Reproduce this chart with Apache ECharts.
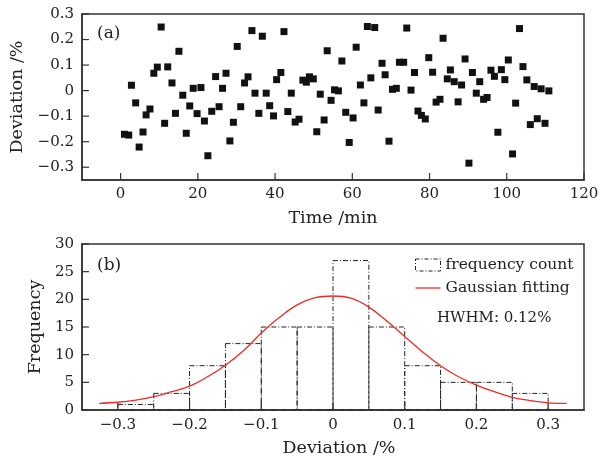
<!DOCTYPE html>
<html>
<head>
<meta charset="utf-8">
<script src="https://cdn.jsdelivr.net/npm/echarts@6/dist/echarts.min.js"></script>
<style>html,body{margin:0;padding:0;background:#fff}#c{width:611px;height:463px}</style>
</head>
<body>
<div id="c"></div>
<script>
// ---- data ----
const times = [1.0,2.1,2.8,3.9,4.8,5.8,6.6,7.6,8.6,9.5,10.5,11.4,12.2,13.3,14.2,15.1,16.1,17.0,17.9,18.8,19.8,20.8,21.7,22.6,23.6,24.6,25.5,26.4,27.3,28.3,29.2,30.2,31.1,32.1,33.0,34.0,34.8,35.8,36.7,37.7,38.6,39.6,40.4,41.5,42.3,43.3,44.2,45.2,46.2,47.2,48.1,48.9,49.9,50.8,51.7,52.7,53.5,54.5,55.4,56.4,57.3,58.3,59.2,60.2,61.0,62.1,63.0,63.9,64.8,65.8,66.7,67.7,68.5,69.5,70.4,71.4,72.2,73.3,74.1,75.2,76.1,77.0,77.9,78.9,79.8,80.8,81.7,82.7,83.5,84.6,85.4,86.4,87.4,88.3,89.2,90.2,91.1,92.1,93.0,94.0,94.9,95.9,96.8,97.7,98.6,99.5,100.4,101.5,102.3,103.3,104.2,105.2,106.1,107.1,107.9,108.9,109.9,110.9];
const deviations = [-0.171,-0.174,0.021,-0.048,-0.221,-0.162,-0.095,-0.072,0.068,0.092,0.249,-0.128,0.093,0.030,-0.089,0.154,-0.018,-0.167,-0.060,0.009,-0.090,0.012,-0.119,-0.255,-0.081,0.055,-0.063,0.009,0.068,-0.197,-0.124,0.173,-0.063,0.030,0.054,0.235,-0.010,-0.089,0.213,-0.010,-0.059,-0.099,0.043,0.071,0.231,-0.082,-0.010,-0.123,-0.112,0.041,0.033,0.054,0.046,-0.161,-0.014,-0.115,0.156,-0.038,0.003,-0.001,0.116,-0.085,-0.203,-0.107,0.170,0.022,-0.048,0.251,0.050,0.247,-0.076,0.107,0.062,-0.198,0.005,0.009,0.111,0.111,0.245,0.002,0.071,-0.080,-0.097,-0.111,0.129,0.072,-0.045,-0.034,0.205,0.046,0.081,0.035,-0.044,0.022,0.124,-0.284,0.071,-0.010,0.035,-0.034,-0.027,0.080,0.056,-0.163,0.082,0.043,0.120,-0.248,-0.049,0.243,0.094,0.042,-0.133,0.016,-0.110,0.007,-0.128,-0.001];

const binStart = [-0.30,-0.25,-0.20,-0.15,-0.10,-0.05,0.00,0.05,0.10,0.15,0.20,0.25];
const binEnd   = [-0.25,-0.20,-0.15,-0.10,-0.05,0.00,0.05,0.10,0.15,0.20,0.25,0.30];
const binCounts = [1,3,8,12,15,15,27,15,8,5,5,3];

const fitX = [-0.326,-0.3,-0.275,-0.25,-0.225,-0.2,-0.175,-0.15,-0.125,-0.1,-0.075,-0.05,-0.025,0,0.025,0.05,0.075,0.1,0.125,0.15,0.175,0.2,0.225,0.25,0.275,0.3,0.326];
const fitY = [1.2,1.4,1.8,2.4,3.3,4.3,6.0,8.1,10.7,13.9,16.7,19.0,20.3,20.6,20.2,18.6,16.1,13.3,10.5,8.0,6.0,4.5,3.3,2.3,1.7,1.3,1.2];

const timeTicks = [0,20,40,60,80,100,120];
const devTicks = [-0.3,-0.2,-0.1,0,0.1,0.2,0.3];
const freqTicks = [0,5,10,15,20,25,30];

// ---- chart ----
const FONT = 'DejaVu Serif';
const TOP_X = [-10, 120], TOP_Y = [-0.35, 0.3];
const BOT_X = [-0.35, 0.35], BOT_Y = [0, 30];
const near = (v, list) => list.some(t => Math.abs(t - v) < 1e-6);
const fmtDev = v => near(v, devTicks) ? String(Math.round(v*10)/10).replace('-', '\u2212') : '';
const fmtTime = v => near(v, timeTicks) ? String(Math.round(v)) : '';
const fmtFreq = v => near(v, freqTicks) ? String(Math.round(v)) : '';

const chart = echarts.init(document.getElementById('c'), null, {renderer:'canvas'});

const axisCommon = {
  axisLine:{show:true, onZero:false, lineStyle:{color:'#333', width:1.5}},
  splitLine:{show:false},
  axisTick:{show:false},
  axisLabel:{color:'#222', fontFamily:FONT, fontSize:15},
  nameTextStyle:{color:'#222', fontFamily:FONT, fontSize:17.5}
};

// inward tick marks, placed through the axes' own scales
function tickSeries(xi, yi, xTicks, yTicks, xr, yr) {
  const data = xTicks.map(t => [t, yr[0], 1]).concat(yTicks.map(v => [xr[0], v, 0]));
  return {
    type:'custom', xAxisIndex:xi, yAxisIndex:yi, silent:true, z:5,
    encode:{x:0, y:1},
    data:data,
    renderItem:function(params, api){
      const p = api.coord([api.value(0), api.value(1)]);
      const L = 7;
      const isX = api.value(2) === 1;
      return {
        type:'line',
        shape: isX ? {x1:p[0], y1:p[1], x2:p[0], y2:p[1] - L}
                   : {x1:p[0], y1:p[1], x2:p[0] + L, y2:p[1]},
        style:{stroke:'#333', lineWidth:1.2, fill:null}
      };
    }
  };
}

const option = {
  animation:false,
  backgroundColor:'#fff',
  grid:[
    {left:82, right:27, top:14, height:166, show:true, borderColor:'#333', borderWidth:1.5, backgroundColor:'transparent'},
    {left:82, right:27, top:244, height:166, show:true, borderColor:'#333', borderWidth:1.5, backgroundColor:'transparent'}
  ],
  xAxis:[
    Object.assign({}, axisCommon, {
      type:'value', gridIndex:0, min:TOP_X[0], max:TOP_X[1], splitNumber:6,
      axisLabel:Object.assign({}, axisCommon.axisLabel, {margin:7, formatter:fmtTime, showMinLabel:false}),
      name:'Time /min', nameLocation:'middle', nameGap:29
    }),
    Object.assign({}, axisCommon, {
      type:'value', gridIndex:1, min:BOT_X[0], max:BOT_X[1], splitNumber:7,
      axisLabel:Object.assign({}, axisCommon.axisLabel, {margin:8, formatter:fmtDev, showMinLabel:false, showMaxLabel:false}),
      name:'Deviation /%', nameLocation:'middle', nameGap:29,
      nameTextStyle:Object.assign({}, axisCommon.nameTextStyle, {padding:[0,0,0,12]})
    })
  ],
  yAxis:[
    Object.assign({}, axisCommon, {
      type:'value', gridIndex:0, min:TOP_Y[0], max:TOP_Y[1], splitNumber:7,
      axisLabel:Object.assign({}, axisCommon.axisLabel, {margin:8, formatter:fmtDev, showMinLabel:false}),
      name:'Deviation /%', nameLocation:'middle', nameGap:42
    }),
    Object.assign({}, axisCommon, {
      type:'value', gridIndex:1, min:BOT_Y[0], max:BOT_Y[1], interval:5,
      axisLabel:Object.assign({}, axisCommon.axisLabel, {margin:8, formatter:fmtFreq}),
      name:'Frequency', nameLocation:'middle', nameGap:38
    })
  ],
  legend:{
    orient:'vertical', left:410, top:251, itemWidth:25, itemHeight:12, itemGap:5,
    textStyle:{fontFamily:FONT, fontSize:15.5, color:'#222', lineHeight:18},
    data:[
      {name:'frequency count', icon:'rect', itemStyle:{color:'rgba(0,0,0,0)', borderColor:'#222', borderWidth:1, borderType:[4,2,1,2]}},
      {name:'Gaussian fitting', icon:'path://M0,0 L25,0 L25,1.3 L0,1.3 Z'}
    ]
  },
  graphic:[
    {type:'text', left:97, top:25, style:{text:'(a)', font:'17px "DejaVu Serif"', fill:'#222'}},
    {type:'text', left:97, top:257, style:{text:'(b)', font:'17px "DejaVu Serif"', fill:'#222'}},
    {type:'text', left:437, top:311, style:{text:'HWHM: 0.12%', font:'15px "DejaVu Serif"', fill:'#222'}}
  ],
  series:[
    {
      type:'scatter', xAxisIndex:0, yAxisIndex:0, symbol:'rect', symbolSize:7,
      itemStyle:{color:'#111', opacity:1},
      data: times.map((t,i)=>[t, deviations[i]])
    },
    {
      name:'frequency count', type:'custom', xAxisIndex:1, yAxisIndex:1,
      itemStyle:{color:'rgba(0,0,0,0)', borderColor:'#222'},
      encode:{x:[0,1], y:2},
      data: binStart.map((s,i)=>[s, binEnd[i], binCounts[i]]),
      renderItem:function(params, api){
        const p0 = api.coord([api.value(0), api.value(2)]);
        const p1 = api.coord([api.value(1), 0]);
        return {type:'rect', shape:{x:p0[0], y:p0[1], width:p1[0]-p0[0], height:p1[1]-p0[1]},
          style:{fill:null, stroke:'#222', lineWidth:1, lineDash:[5,2,1,2]}};
      }
    },
    {
      name:'Gaussian fitting', type:'line', xAxisIndex:1, yAxisIndex:1, symbol:'none', smooth:0.4,
      lineStyle:{color:'#ee2a24', width:1.3}, itemStyle:{color:'#ee2a24'},
      data: fitX.map((x,i)=>[x, fitY[i]]), z:3
    },
    tickSeries(0, 0, timeTicks, devTicks, TOP_X, TOP_Y),
    tickSeries(1, 1, devTicks, freqTicks, BOT_X, BOT_Y)
  ]
};
chart.setOption(option);
</script>
</body>
</html>
